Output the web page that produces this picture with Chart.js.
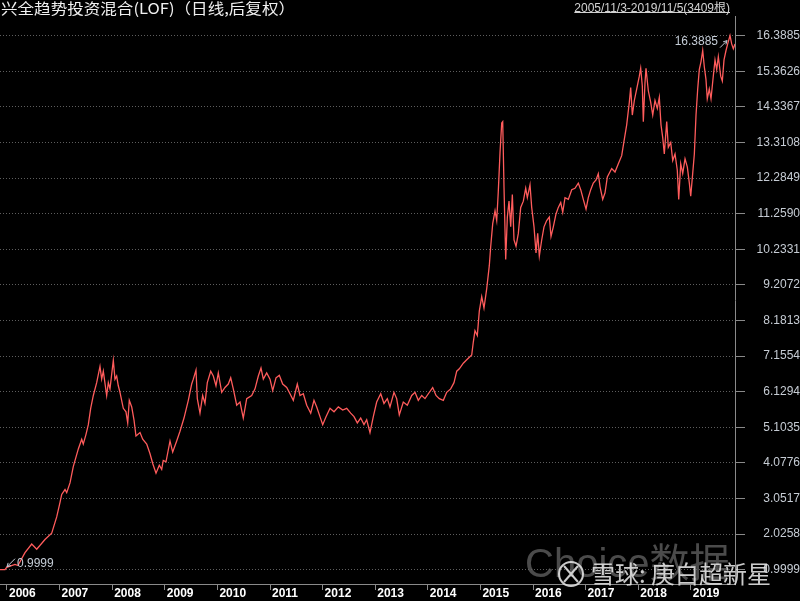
<!DOCTYPE html>
<html lang="zh-CN">
<head>
  <meta charset="UTF-8">
  <meta name="viewport" content="width=device-width, initial-scale=1.0">

  <!-- script element -- JavaScript- Chart.js -->
  <script src="https://cdn.jsdelivr.net/npm/chart.js@4.4.1/dist/chart.umd.min.js"></script>

  <title>兴全趋势投资混合(LOF) 日线 后复权</title>
  <style>
    html, body { margin: 0; padding: 0; background: #000; }
    canvas { display: block; }
  </style>
</head>
<body>
  <canvas id="chart" width="800" height="601"></canvas>

  <script>
    // 01 data (x = decimal year, y = accumulated NAV)
    const titleText = '兴全趋势投资混合(LOF)（日线,后复权）';
    const rangeText = '2005/11/3-2019/11/5(3409根)';

    const navDates = [
      2005.867, 2005.962, 2005.994, 2006.152, 2006.209, 2006.342, 2006.470, 2006.565, 2006.722, 2006.850, 2006.945,
      2007.008, 2007.040, 2007.103, 2007.135, 2007.198, 2007.260, 2007.356, 2007.420, 2007.450, 2007.502,
      2007.546, 2007.591, 2007.641, 2007.705, 2007.768, 2007.800, 2007.831, 2007.895, 2007.926, 2007.958,
      2008.021, 2008.053, 2008.085, 2008.116, 2008.148, 2008.211, 2008.262, 2008.295, 2008.325, 2008.371, 2008.414,
      2008.452, 2008.529, 2008.580, 2008.656, 2008.719, 2008.770, 2008.833, 2008.895, 2008.941, 2008.971,
      2009.023, 2009.099, 2009.150, 2009.226, 2009.289, 2009.365, 2009.447, 2009.511, 2009.542,
      2009.593, 2009.618, 2009.669, 2009.720, 2009.764, 2009.808, 2009.873, 2009.922, 2009.973,
      2010.017, 2010.082, 2010.144, 2010.207, 2010.253, 2010.302, 2010.367, 2010.430,
      2010.492, 2010.557, 2010.652, 2010.715, 2010.778, 2010.829, 2010.873, 2010.937,
      2011.000, 2011.051, 2011.114, 2011.177, 2011.241, 2011.318, 2011.380, 2011.443,
      2011.519, 2011.570, 2011.633, 2011.698, 2011.774, 2011.836, 2011.888, 2011.950,
      2012.002, 2012.065, 2012.141, 2012.217, 2012.299, 2012.382, 2012.458, 2012.534,
      2012.597, 2012.660, 2012.724, 2012.787, 2012.838, 2012.901, 2012.964,
      2013.028, 2013.105, 2013.167, 2013.230, 2013.281, 2013.357, 2013.408, 2013.458,
      2013.534, 2013.610, 2013.694, 2013.757, 2013.819, 2013.884, 2013.947,
      2014.010, 2014.093, 2014.156, 2014.219, 2014.295, 2014.359, 2014.435, 2014.498, 2014.550,
      2014.599, 2014.675, 2014.740, 2014.835, 2014.865, 2014.897, 2014.941, 2014.979,
      2015.025, 2015.068, 2015.120, 2015.169, 2015.196, 2015.234, 2015.278, 2015.310, 2015.340,
      2015.373, 2015.405, 2015.424, 2015.449, 2015.481, 2015.512, 2015.544, 2015.576, 2015.607,
      2015.639, 2015.677, 2015.721, 2015.766, 2015.816, 2015.861, 2015.892, 2015.943, 2015.975,
      2016.019, 2016.057, 2016.089, 2016.120, 2016.165, 2016.209, 2016.260, 2016.310, 2016.342, 2016.386, 2016.437,
      2016.481, 2016.527, 2016.565, 2016.608, 2016.671, 2016.736, 2016.798, 2016.861, 2016.907, 2016.956,
      2017.008, 2017.051, 2017.097, 2017.146, 2017.198, 2017.241, 2017.274, 2017.325, 2017.369, 2017.413, 2017.496,
      2017.559, 2017.622, 2017.686, 2017.730, 2017.781, 2017.831, 2017.857, 2017.888, 2017.926, 2017.971,
      2018.021, 2018.047, 2018.078, 2018.097, 2018.129, 2018.148, 2018.192, 2018.237, 2018.276, 2018.319,
      2018.363, 2018.401, 2018.433, 2018.466, 2018.496, 2018.542, 2018.572, 2018.618, 2018.656, 2018.700,
      2018.743, 2018.770, 2018.808, 2018.846, 2018.890, 2018.934, 2018.972, 2018.998,
      2019.036, 2019.067, 2019.099, 2019.131, 2019.161, 2019.194, 2019.226, 2019.256, 2019.288, 2019.313,
      2019.351, 2019.384, 2019.427, 2019.460, 2019.492, 2019.523, 2019.568, 2019.599, 2019.631, 2019.669,
      2019.701, 2019.745, 2019.777, 2019.808, 2019.840
    ];

    const navValues = [
      0.9999, 1.00, 1.07, 1.15, 1.12, 1.49, 1.74, 1.59, 1.87, 2.05, 2.52,
      2.94, 3.17, 3.31, 3.22, 3.50, 3.97, 4.48, 4.76, 4.62, 4.90,
      5.18, 5.65, 6.02, 6.39, 6.86, 6.49, 6.72, 6.02, 6.39, 6.21,
      7.03, 6.49, 6.58, 6.30, 6.11, 5.65, 5.55, 5.23, 5.88, 5.69, 5.32,
      4.85, 4.95, 4.76, 4.62, 4.34, 4.06, 3.78, 4.01, 3.89, 4.15,
      4.11, 4.71, 4.39, 4.71, 4.99, 5.37, 5.88, 6.35, 6.49,
      6.75, 5.93, 5.51, 6.02, 5.79, 6.39, 6.72, 6.58, 6.30,
      6.67, 6.11, 6.25, 6.35, 6.53, 6.21, 5.74, 5.83,
      5.37, 5.93, 6.02, 6.21, 6.58, 6.81, 6.49, 6.67,
      6.49, 6.16, 6.53, 6.60, 6.35, 6.25, 6.07, 5.88,
      6.35, 6.02, 6.07, 5.74, 5.51, 5.88, 5.69, 5.41,
      5.18, 5.41, 5.65, 5.55, 5.69, 5.60, 5.65, 5.51,
      5.41, 5.23, 5.37, 5.18, 5.32, 4.95, 5.41,
      5.83, 6.07, 5.79, 5.93, 5.69, 6.11, 5.93, 5.46,
      5.83, 5.74, 6.02, 6.11, 5.88, 6.02, 5.93,
      6.07, 6.25, 6.02, 5.93, 5.88, 6.11, 6.21, 6.39, 6.72,
      6.79, 6.95, 7.05, 7.19, 7.56, 7.89, 7.75, 8.45,
      8.87, 8.54, 9.10, 9.76, 10.32, 10.97, 11.34, 11.06, 11.90,
      13.03, 13.87, 13.91, 11.99, 9.94, 11.16, 11.62, 10.88, 11.81,
      10.50, 10.32, 10.69, 11.44, 11.62, 11.99, 11.72, 12.09, 11.44,
      10.88, 10.13, 10.69, 10.04, 10.50, 10.88, 11.06, 11.16, 10.60, 10.88, 11.25,
      11.44, 11.58, 11.30, 11.72, 11.67, 11.95, 11.99, 12.14, 11.95, 11.67,
      11.39, 11.72, 11.95, 12.14, 12.23, 12.41, 12.04, 11.67, 11.86, 12.32, 12.56,
      12.46, 12.70, 12.93, 13.35, 13.82, 14.47, 14.89, 14.10, 14.52, 14.85,
      15.22, 15.45, 14.94, 13.91, 15.03, 15.45, 14.80, 14.47, 14.10, 14.52,
      14.29, 14.61, 13.82, 13.45, 12.98, 13.91, 13.17, 13.31, 12.79, 12.98,
      12.51, 11.67, 12.70, 12.42, 12.84, 12.60, 12.14, 11.76,
      12.42, 12.98, 14.10, 14.85, 15.41, 15.64, 15.96, 15.50, 15.13, 14.57,
      14.85, 14.57, 15.22, 15.69, 15.41, 15.78, 15.22, 15.08, 15.69, 15.96,
      16.15, 16.3885, 16.15, 16.01, 16.15
    ];

    const yearTicks = [2006, 2007, 2008, 2009, 2010, 2011, 2012, 2013, 2014, 2015, 2016, 2017, 2018, 2019];
    const navTicks = [0.9999, 2.0258, 3.0517, 4.0776, 5.1035, 6.1294, 7.1554, 8.1813,
                      9.2072, 10.2331, 11.2590, 12.2849, 13.3108, 14.3367, 15.3626, 16.3885];

    // 02 overlay plugin -- title bar, min / max marks, watermark
    const overlay = {
      id: 'overlay',
      afterDraw(chart) {
        const ctx = chart.ctx;
        const xs = chart.scales.x;
        const ys = chart.scales.y;
        ctx.save();

        // title, left
        ctx.font = "15px 'Noto Sans CJK SC'";
        ctx.fillStyle = '#f0f0f0';
        ctx.textBaseline = 'alphabetic';
        ctx.textAlign = 'left';
        const tw = ctx.measureText(titleText).width;
        ctx.save();
        ctx.translate(1, 14);
        ctx.scale(294 / tw, 1);
        ctx.fillText(titleText, 0, 0);
        ctx.restore();

        // date range, right, underlined
        ctx.font = "12px Arial, 'Noto Sans CJK SC'";
        ctx.fillStyle = '#d2d2d2';
        ctx.textAlign = 'right';
        ctx.fillText(rangeText, 730, 11.5);
        const rw = ctx.measureText(rangeText).width;
        ctx.strokeStyle = '#d2d2d2';
        ctx.lineWidth = 1;
        ctx.beginPath();
        ctx.moveTo(730 - rw, 12.5);
        ctx.lineTo(730, 12.5);
        ctx.stroke();

        // max / min marks
        let iMax = 0, iMin = 0;
        navValues.forEach((v, i) => {
          if (v > navValues[iMax]) iMax = i;
          if (v < navValues[iMin]) iMin = i;
        });
        ctx.font = '12px Arial';
        ctx.fillStyle = '#c4ccd6';
        ctx.strokeStyle = '#c4ccd6';
        ctx.textBaseline = 'middle';

        const arrow = (x1, y1, x2, y2) => {
          ctx.beginPath();
          ctx.moveTo(x1, y1);
          ctx.lineTo(x2, y2);
          const a = Math.atan2(y2 - y1, x2 - x1);
          ctx.moveTo(x2, y2);
          ctx.lineTo(x2 - 4 * Math.cos(a - 0.5), y2 - 4 * Math.sin(a - 0.5));
          ctx.moveTo(x2, y2);
          ctx.lineTo(x2 - 4 * Math.cos(a + 0.5), y2 - 4 * Math.sin(a + 0.5));
          ctx.stroke();
        };

        const mx = xs.getPixelForValue(navDates[iMax]);
        const my = ys.getPixelForValue(navValues[iMax]);
        ctx.textAlign = 'right';
        ctx.fillText(navValues[iMax].toFixed(4), mx - 12, my + 6);
        arrow(mx - 10, my + 12, mx - 3, my + 5);

        const nx = xs.getPixelForValue(navDates[iMin]);
        const ny = ys.getPixelForValue(navValues[iMin]);
        ctx.textAlign = 'left';
        ctx.fillText(navValues[iMin].toFixed(4), nx + 17, ny - 6);
        arrow(nx + 15, ny - 11, nx + 7, ny - 3);

        // watermark
        ctx.textBaseline = 'alphabetic';
        ctx.textAlign = 'left';
        ctx.font = "40px Arial, 'Noto Sans CJK SC'";
        ctx.fillStyle = 'rgba(100, 100, 100, 0.75)';
        ctx.fillText('Choice数据', 525, 577);

        ctx.font = "24px 'Noto Sans CJK SC'";
        ctx.fillStyle = 'rgba(225, 225, 225, 0.9)';
        ctx.fillText('雪球: 庚白超新星', 591, 583);

        ctx.strokeStyle = 'rgba(225, 225, 225, 0.9)';
        ctx.lineWidth = 2;
        ctx.beginPath();
        ctx.arc(571, 574, 12, 0, Math.PI * 2);
        ctx.stroke();
        ctx.beginPath();
        ctx.moveTo(564, 566);
        ctx.quadraticCurveTo(571, 574, 578, 582);
        ctx.moveTo(578, 566);
        ctx.quadraticCurveTo(571, 574, 564, 582);
        ctx.stroke();

        ctx.restore();
      }
    };

    // 03 chart
    const points = navDates.map((d, i) => ({ x: d, y: navValues[i] }));

    const myChart = new Chart(document.getElementById('chart'), {
      type: 'line',
      data: {
        datasets: [{
          data: points,
          borderColor: '#ff5c5c',
          borderWidth: 1.3,
          pointRadius: 0,
          tension: 0,
          fill: false
        }]
      },
      options: {
        responsive: false,
        animation: false,
        layout: { padding: 0 },
        plugins: {
          legend: { display: false },
          tooltip: { enabled: false }
        },
        scales: {
          x: {
            type: 'linear',
            min: 2005.867,
            max: 2019.84,
            afterBuildTicks: scale => { scale.ticks = yearTicks.map(v => ({ value: v })); },
            afterFit: scale => { scale.height = 17; },
            grid: { drawOnChartArea: false, drawTicks: true, tickLength: 6, tickColor: '#8a8a8a', tickBorderDash: [] },
            border: { display: true, color: '#8a8a8a', width: 1 },
            ticks: {
              color: '#ffffff',
              font: { family: 'Arial', size: 12, weight: 'bold' },
              align: 'start',
              labelOffset: 2,
              padding: -4,
              maxRotation: 0,
              autoSkip: false,
              callback: value => String(value)
            }
          },
          y: {
            type: 'linear',
            position: 'right',
            min: 0.5881,
            max: 16.9488,
            afterBuildTicks: scale => { scale.ticks = navTicks.map(v => ({ value: v })); },
            afterFit: scale => { scale.width = 65; },
            grid: { color: '#5e5e5e', lineWidth: 1, drawTicks: true, tickLength: 10, tickColor: '#8a8a8a', tickBorderDash: [] },
            border: { display: true, color: '#8a8a8a', width: 1, dash: [1, 2] },
            ticks: {
              color: '#c6ccd4',
              font: { family: 'Arial', size: 12 },
              crossAlign: 'far',
              padding: 9,
              autoSkip: false,
              callback: value => value.toFixed(4)
            }
          }
        }
      },
      plugins: [overlay]
    });
  </script>
</body>
</html>
